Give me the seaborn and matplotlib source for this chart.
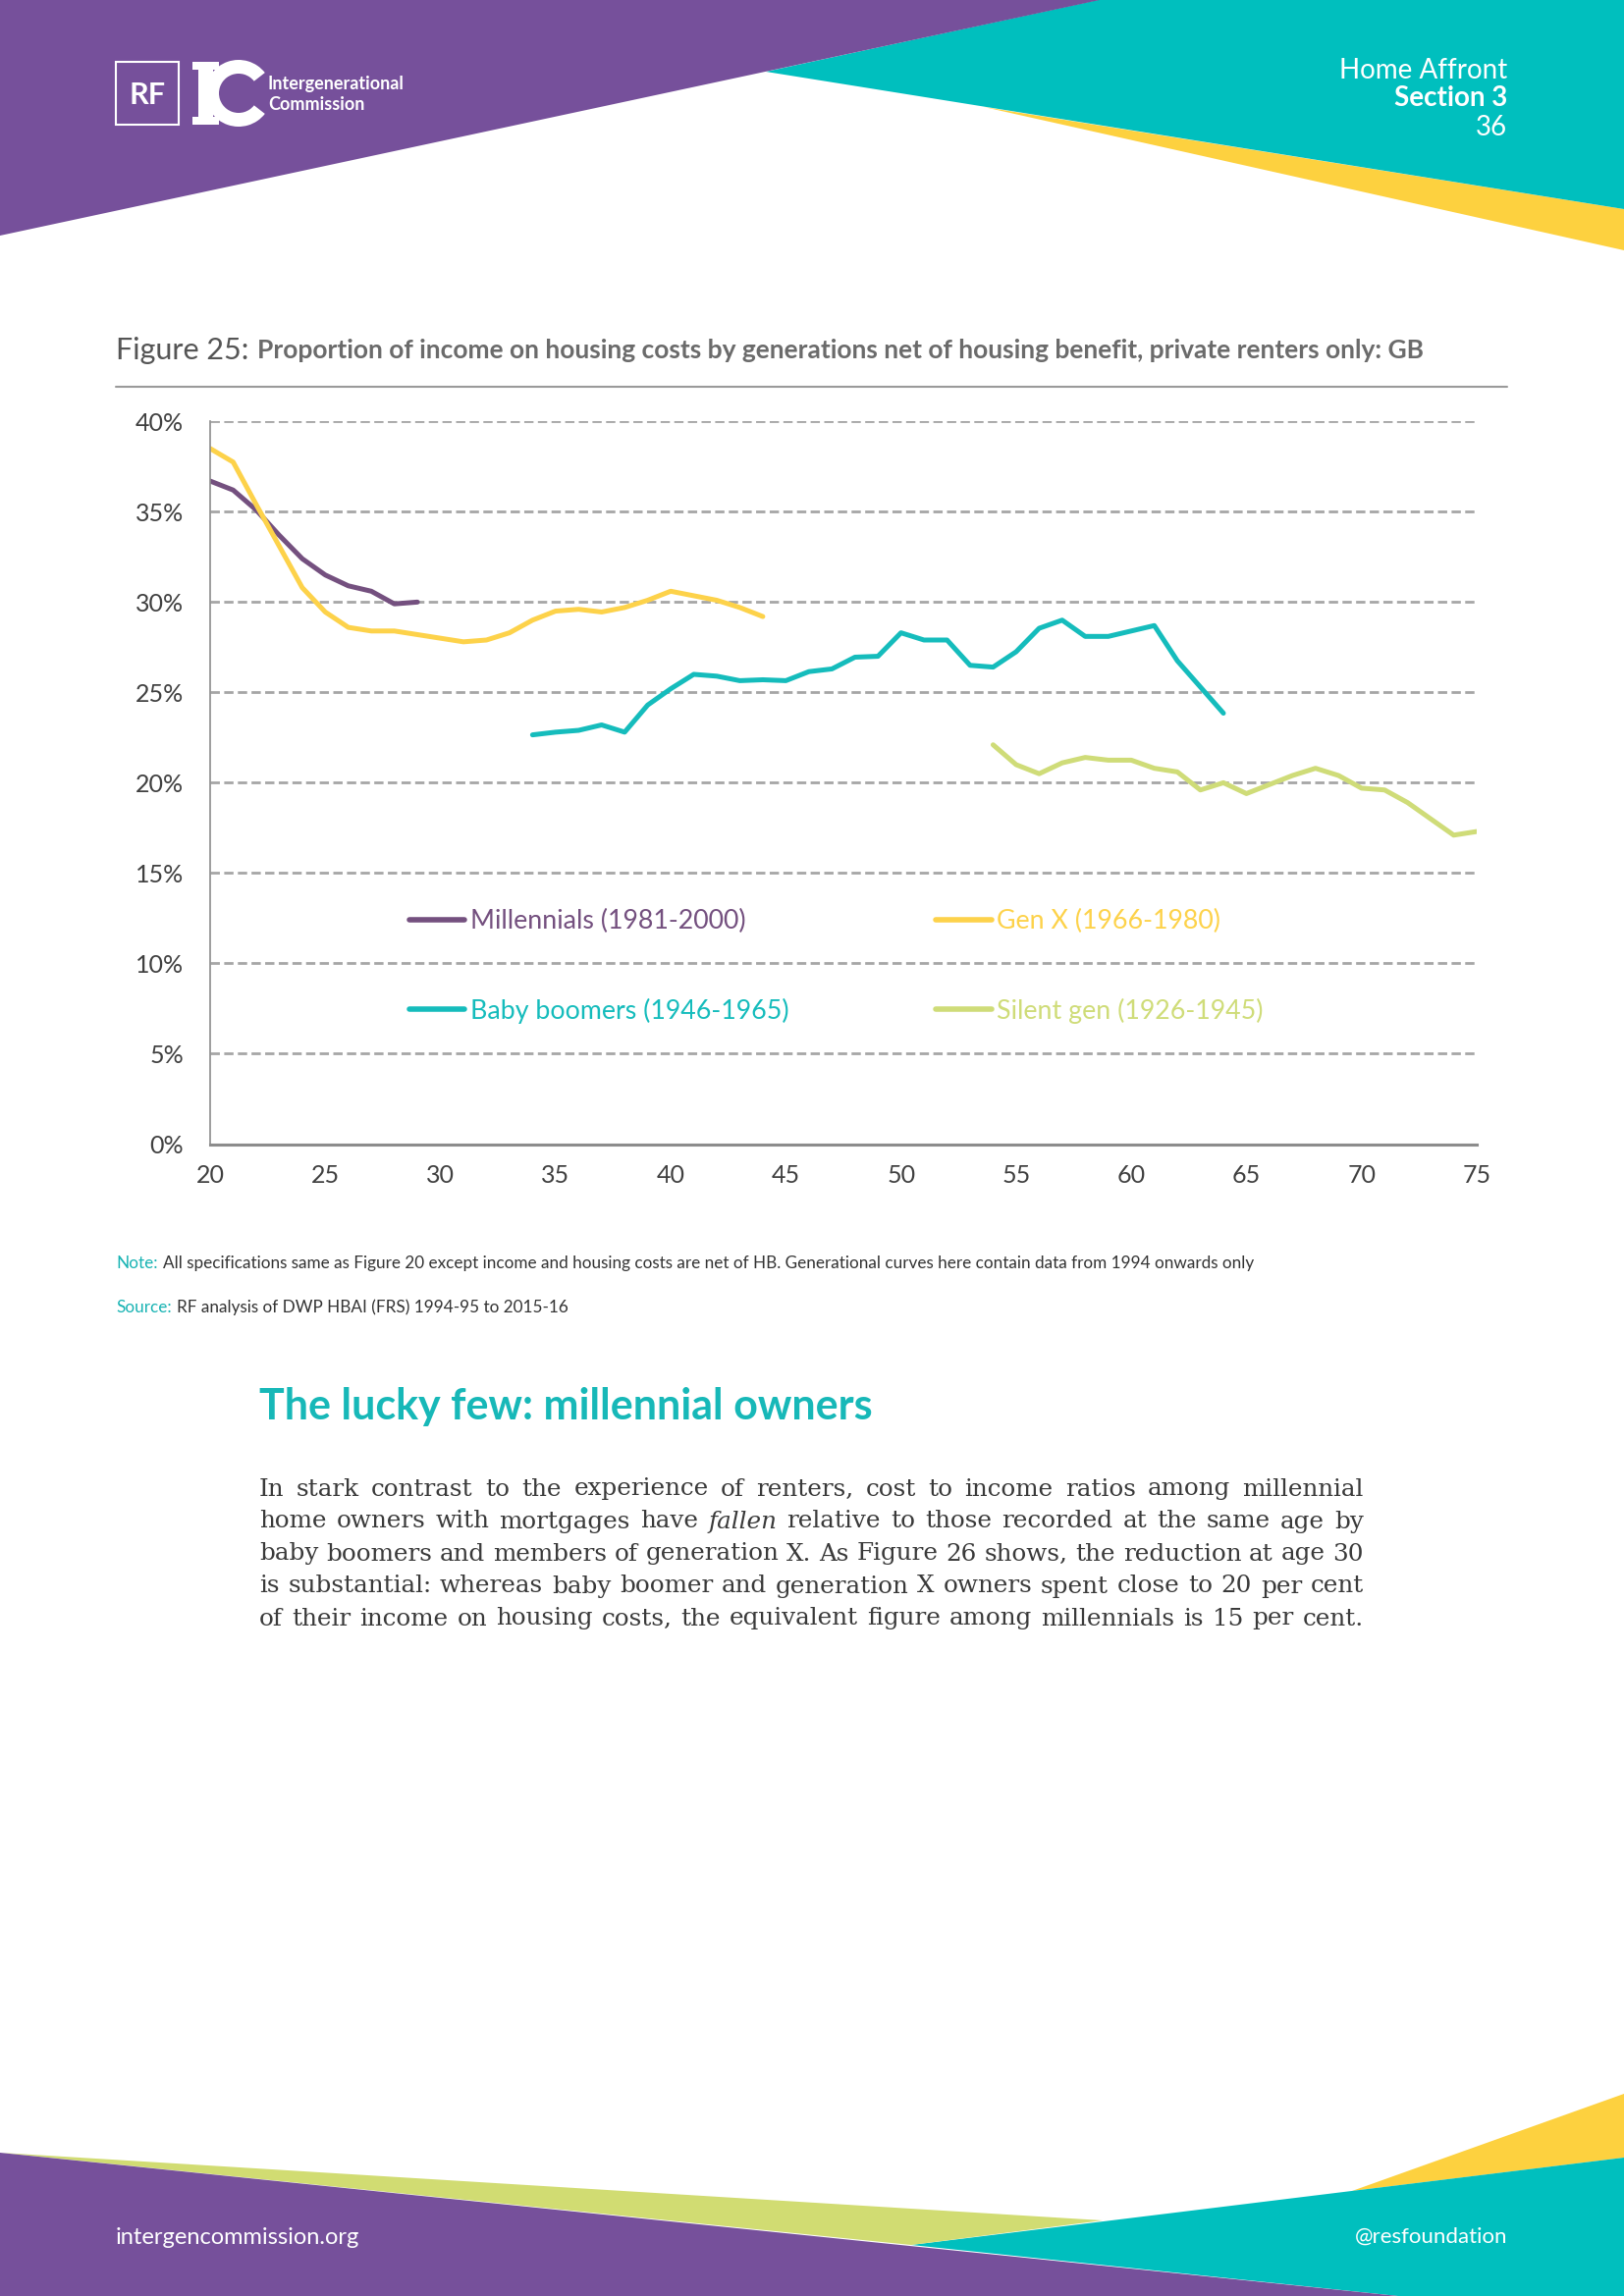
import matplotlib.pyplot as plt
import matplotlib.patches as mpatches
from matplotlib.lines import Line2D
import pandas as pd
import seaborn as sns

# ── DATA: share of income spent on housing (%), by age ─────────
mill_ages = list(range(20, 30))
mill_vals = [36.7, 36.2, 35.1, 33.7, 32.4, 31.5, 30.9, 30.6, 29.9, 30.0]

genx_ages = list(range(20, 45))
genx_vals = [38.5, 37.75, 35.4, 33.1, 30.8, 29.45, 28.6, 28.4, 28.4, 28.2,
             28.0, 27.8, 27.9, 28.3, 29.0, 29.5, 29.6, 29.45, 29.7, 30.1,
             30.6, 30.35, 30.1, 29.7, 29.2]

boom_ages = list(range(34, 65))
boom_vals = [22.65, 22.8, 22.9, 23.2, 22.8, 24.3, 25.2, 26.0, 25.9, 25.65,
             25.7, 25.65, 26.15, 26.3, 26.95, 27.0, 28.3, 27.9, 27.9, 26.5,
             26.4, 27.25, 28.55, 29.0, 28.1, 28.1, 28.4, 28.7, 26.75, 25.3,
             23.85]

silent_ages = list(range(54, 76))
silent_vals = [22.1, 21.0, 20.5, 21.1, 21.4, 21.25, 21.25, 20.8, 20.6, 19.6,
               20.0, 19.4, 19.9, 20.4, 20.8, 20.4, 19.7, 19.6, 18.9, 18.0,
               17.1, 17.3]

gen_labels = ["Millennials (1981-2000)", "Gen X (1966-1980)",
              "Baby boomers (1946-1965)", "Silent gen (1926-1945)"]
gen_colors = ["#74507f", "#fdd24a", "#15bcbc", "#cfdc78"]

x_ticks = list(range(20, 80, 5))
y_ticks = list(range(0, 45, 5))

df = pd.concat([
    pd.DataFrame({"age": a, "share": v, "gen": g})
    for a, v, g in zip([mill_ages, genx_ages, boom_ages, silent_ages],
                       [mill_vals, genx_vals, boom_vals, silent_vals],
                       gen_labels)
])

# page colours
PURPLE = "#76509b"
TEAL = "#00bfbe"
YELLOW = "#fdd13f"
LIME = "#d1dc72"

sns.set_style("white")
plt.rcParams["font.family"] = ["Lato", "DejaVu Sans"]

W, H = 1654, 2339
fig = plt.figure(figsize=(W / 100, H / 100), dpi=100)
renderer = fig.canvas.get_renderer()


def fx(x):
    return x / W


def fy(y):
    return 1 - y / H


# ── page decoration (pixel coords) ─────────────────────────────
bg = fig.add_axes([0, 0, 1, 1], zorder=0)
bg.set_xlim(0, W)
bg.set_ylim(H, 0)
bg.axis("off")

# header
bg.add_patch(mpatches.Polygon([(1002, 109), (1654, 213), (1654, 255)], color=YELLOW, lw=0))
bg.add_patch(mpatches.Polygon([(780, 73), (1118, 0), (1654, 0), (1654, 213)], color=TEAL, lw=0))
bg.add_patch(mpatches.Polygon([(0, 0), (1120, 0), (0, 240)], color=PURPLE, lw=0))
# footer
bg.add_patch(mpatches.Polygon([(1377, 2232), (1654, 2133), (1654, 2198)], color=YELLOW, lw=0))
bg.add_patch(mpatches.Polygon([(928, 2287), (1654, 2198), (1654, 2339), (1424, 2339)], color=TEAL, lw=0))
bg.add_patch(mpatches.Polygon([(0, 2193), (1123, 2262), (928, 2287)], color=LIME, lw=0))
bg.add_patch(mpatches.Polygon([(0, 2193), (1424, 2339), (0, 2339)], color=PURPLE, lw=0))

# logo
bg.add_patch(mpatches.Rectangle((118, 63), 64, 64, fill=False, ec="white", lw=1.5))
bg.text(150, 97, "RF", color="white", fontsize=22, fontweight="bold", ha="center", va="center")
bg.add_patch(mpatches.Wedge((243, 95), 34, 38, 322, width=14, color="white", lw=0))
bg.add_patch(mpatches.Rectangle((202, 63), 15, 64, color="white", lw=0))
bg.add_patch(mpatches.Rectangle((196, 63), 27, 8, color="white", lw=0))
bg.add_patch(mpatches.Rectangle((196, 119), 27, 8, color="white", lw=0))
bg.text(273, 86, "Intergenerational", color="white", fontsize=13, fontweight="bold", va="center")
bg.text(273, 107, "Commission", color="white", fontsize=13, fontweight="bold", va="center")

# header / footer text
bg.text(1535, 72, "Home Affront", color="white", fontsize=20, ha="right", va="center")
bg.text(1535, 100, "Section 3", color="white", fontsize=20, ha="right", va="center", fontweight="bold")
bg.text(1535, 130, "36", color="white", fontsize=20, ha="right", va="center")
bg.text(118, 2279, "intergencommission.org", color="white", fontsize=17, va="center")
bg.text(1535, 2279, "@resfoundation", color="white", fontsize=16, ha="right", va="center")


def put_runs(x, y, runs, gap=0, **kw):
    # place text pieces left to right, pixel coords
    for s, style in runs:
        t = bg.text(x, y, s, va="center", ha="left", **kw, **style)
        x += t.get_window_extent(renderer).width + gap
    return x


# chart title
put_runs(118, 357, [("Figure 25:", dict(fontsize=22, color="#555555")),
                    ("Proportion of income on housing costs by generations net of housing benefit, "
                     "private renters only: GB", dict(fontsize=19, color="#6b6b6b", fontweight="bold"))],
         gap=9)
bg.plot([118, 1535], [394, 394], color="#9a9a9a", lw=1.5)

# notes
put_runs(118, 1287, [("Note:", dict(color="#17b3b3")),
                     ("All specifications same as Figure 20 except income and housing costs are net of HB. "
                      "Generational curves here contain data from 1994 onwards only", dict(color="#333333"))],
         gap=5, fontsize=12.3)
put_runs(118, 1332, [("Source:", dict(color="#17b3b3")),
                     ("RF analysis of DWP HBAI (FRS) 1994-95 to 2015-16", dict(color="#333333"))],
         gap=5, fontsize=12.3)

# ── body text ──────────────────────────────────────────────────
bg.text(264, 1433, "The lucky few: millennial owners", color="#17b8b8", fontsize=31,
        fontweight="bold", va="center")

body_lines = [
    "In stark contrast to the experience of renters, cost to income ratios among millennial",
    "home owners with mortgages have _fallen relative to those recorded at the same age by",
    "baby boomers and members of generation X. As Figure 26 shows, the reduction at age 30",
    "is substantial: whereas baby boomer and generation X owners spent close to 20 per cent",
    "of their income on housing costs, the equivalent figure among millennials is 15 per cent.",
]
x_left, x_right = 264, 1389
body_font = dict(family="DejaVu Serif", color="#3a3a3a", va="center", ha="left")

# size the body font so the longest line nearly fills the column
probe = bg.text(0, 0, max(body_lines, key=len).replace("_", ""), fontsize=15, **body_font)
body_size = 15 * (x_right - x_left - 15) / probe.get_window_extent(renderer).width
probe.remove()

for i, line in enumerate(body_lines):
    y = 1517 + i * 33
    words = []
    for w in line.split():
        style = "italic" if w.startswith("_") else "normal"
        t = bg.text(0, y, w.lstrip("_"), fontsize=body_size, style=style, **body_font)
        words.append((t, t.get_window_extent(renderer).width))
    space = (x_right - x_left - sum(w for _, w in words)) / (len(words) - 1)
    x = x_left
    for t, w in words:
        t.set_x(x)
        x += w + space

# ── chart ──────────────────────────────────────────────────────
ax = fig.add_axes([fx(214), fy(1165.5), (1504 - 214) / W, (1165.5 - 429.3) / H], zorder=2)
ax.set_facecolor("none")
sns.lineplot(data=df, x="age", y="share", hue="gen", hue_order=gen_labels,
             palette=dict(zip(gen_labels, gen_colors)), lw=3.6, errorbar=None,
             legend=False, ax=ax)

ax.set_xlim(20, 75)
ax.set_ylim(0, 40)
ax.set_xticks(x_ticks)
ax.set_yticks(y_ticks)
ax.yaxis.set_major_formatter(lambda v, p: f"{v:.0f}%")
ax.set_xlabel("")
ax.set_ylabel("")
ax.yaxis.grid(True, color="#a6a6a6", lw=2, linestyle=(0, (3.4, 1.6)))
ax.set_axisbelow(True)
sns.despine(ax=ax)
ax.spines["left"].set_color("#8c8c8c")
ax.spines["left"].set_linewidth(1.2)
ax.spines["bottom"].set_color("#8c8c8c")
ax.spines["bottom"].set_linewidth(2.2)
ax.tick_params(axis="both", colors="#8c8c8c", labelcolor="#404040", labelsize=18,
               length=6.5, width=1.2)
ax.tick_params(axis="y", pad=13)
ax.tick_params(axis="x", pad=8)

order = [0, 2, 1, 3]
handles = [Line2D([], [], color=gen_colors[i], lw=4) for i in order]
ax.legend(handles, [gen_labels[i] for i in order], ncol=2, loc="upper left",
          bbox_to_anchor=((417 - 214) / 1290, (1165.5 - 926) / 736.2), frameon=False,
          fontsize=19.3, handlelength=2.1, handletextpad=0.2, columnspacing=5.6,
          labelspacing=2.45, borderpad=0, borderaxespad=0, labelcolor="linecolor")

fig.savefig("out.png", dpi=100)
